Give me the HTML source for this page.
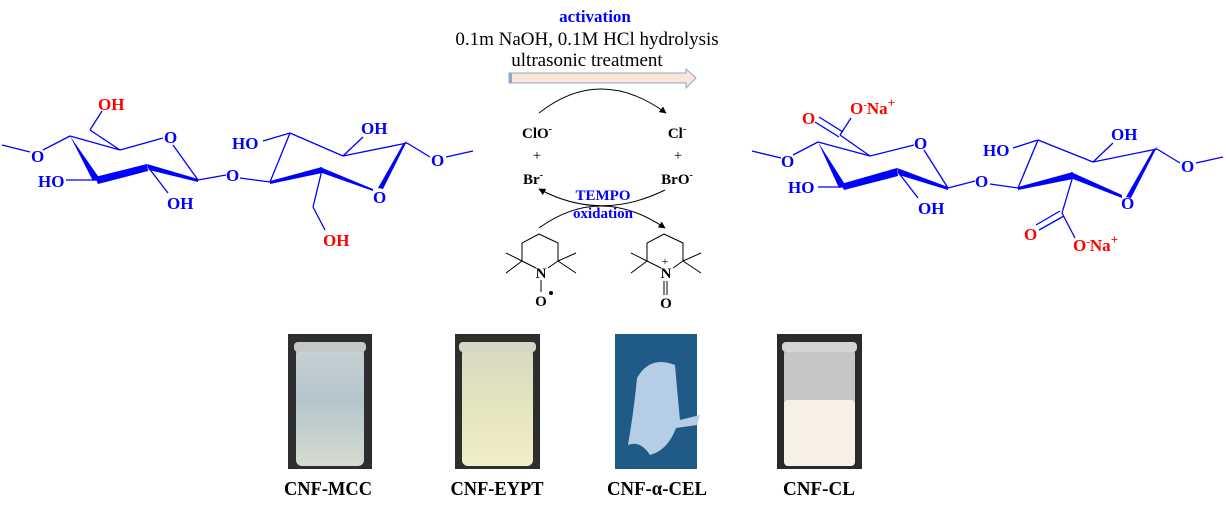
<!DOCTYPE html>
<html><head><meta charset="utf-8"><style>
html,body{margin:0;padding:0;background:#fff;}
svg{display:block;}
text{font-family:"Liberation Serif",serif;}
.b{fill:#0000ff;font-weight:bold;font-size:17px;}
.r{fill:#ff0000;font-weight:bold;font-size:17px;}
.k{fill:#000;font-weight:bold;font-size:15px;}
.lab{fill:#000;font-weight:bold;font-size:20px;}
</style></head><body>
<svg width="1226" height="511" viewBox="0 0 1226 511" xmlns="http://www.w3.org/2000/svg">
<defs>
<marker id="ah" viewBox="0 0 10 10" refX="9" refY="5" markerWidth="7" markerHeight="7" orient="auto"><path d="M0,0 L10,5 L0,10 z" fill="#000"/></marker>
</defs>
<!-- top text -->
<text x="595" y="22" text-anchor="middle" style="fill:#0000ff;font-weight:bold;font-size:17px">activation</text>
<text x="587" y="45" text-anchor="middle" style="font-size:19px">0.1m NaOH, 0.1M HCl hydrolysis</text>
<text x="587" y="66" text-anchor="middle" style="font-size:19px">ultrasonic treatment</text>
<path d="M509,73 L686,73 L686,69 L696,78 L686,88 L686,83 L509,83 z" fill="#fbe5d6" stroke="#8ea9c8" stroke-width="1"/>
<rect x="509" y="73" width="3" height="10" fill="#8ea9c8"/>

<!-- left cellulose -->
<g stroke="#0000ff" stroke-width="1.3" fill="none">
<line x1="2" y1="145" x2="30" y2="152"/>
<line x1="43" y1="150" x2="70" y2="136"/>
<line x1="70" y1="136" x2="120" y2="150"/>
<line x1="120" y1="150" x2="163" y2="138"/>
<line x1="120" y1="150" x2="90" y2="130"/>
<line x1="90" y1="130" x2="102" y2="111"/>
<line x1="173" y1="145" x2="198" y2="180"/>
<line x1="66" y1="180" x2="97" y2="180"/>
<line x1="148" y1="167" x2="168" y2="193"/>
<line x1="198" y1="180" x2="226" y2="175"/>
<line x1="240" y1="178" x2="270" y2="182"/>
<line x1="270" y1="182" x2="290" y2="133"/>
<line x1="263" y1="141" x2="290" y2="133"/>
<line x1="290" y1="133" x2="343" y2="156"/>
<line x1="343" y1="156" x2="363" y2="137"/>
<line x1="343" y1="156" x2="407" y2="143"/>
<line x1="407" y1="143" x2="430" y2="157"/>
<line x1="446" y1="157" x2="473" y2="151"/>
<line x1="322" y1="170" x2="313" y2="207"/>
<line x1="313" y1="207" x2="325" y2="230"/>
</g>
<g fill="#0000ff">
<polygon points="70,136 93,181 100,179"/>
<polygon points="95,177 98,184 148,171 147,164"/>
<polygon points="147,164 149,170 198,182 198,179"/>
<polygon points="407,141 403,144 378,188 383,189"/>
<polygon points="270,181 270,184 322,173 322,167"/>
<polygon points="320,167 322,173 373,191 373,189"/>
</g>
<text class="r" x="98" y="110">OH</text>
<text class="b" x="164" y="143">O</text>
<text class="b" x="31" y="162">O</text>
<text class="b" x="38" y="187">HO</text>
<text class="b" x="167" y="209">OH</text>
<text class="b" x="226" y="181">O</text>
<text class="b" x="232" y="149">HO</text>
<text class="b" x="361" y="134">OH</text>
<text class="b" x="431" y="166">O</text>
<text class="b" x="373" y="203">O</text>
<text class="r" x="323" y="246">OH</text>

<!-- right oxidized -->
<g stroke="#0000ff" stroke-width="1.3" fill="none">
<line x1="752" y1="151" x2="781" y2="158"/>
<line x1="793" y1="155" x2="818" y2="142"/>
<line x1="818" y1="142" x2="870" y2="156"/>
<line x1="870" y1="156" x2="914" y2="145"/>
<line x1="870" y1="156" x2="840" y2="135"/>
<line x1="840" y1="135" x2="851" y2="118"/>
<line x1="839" y1="137" x2="815" y2="122"/>
<line x1="843" y1="132" x2="819" y2="117"/>
<line x1="924" y1="150" x2="948" y2="188"/>
<line x1="818" y1="187" x2="843" y2="187"/>
<line x1="898" y1="172" x2="918" y2="198"/>
<line x1="948" y1="188" x2="975" y2="181"/>
<line x1="990" y1="184" x2="1018" y2="188"/>
<line x1="1018" y1="188" x2="1038" y2="140"/>
<line x1="1013" y1="148" x2="1038" y2="140"/>
<line x1="1038" y1="140" x2="1093" y2="162"/>
<line x1="1093" y1="162" x2="1113" y2="143"/>
<line x1="1093" y1="162" x2="1157" y2="149"/>
<line x1="1157" y1="149" x2="1180" y2="163"/>
<line x1="1196" y1="163" x2="1223" y2="157"/>
<line x1="1073" y1="176" x2="1062" y2="213"/>
<line x1="1062" y1="213" x2="1075" y2="238"/>
<line x1="1060" y1="211" x2="1036" y2="225"/>
<line x1="1064" y1="216" x2="1039" y2="230"/>
</g>
<g fill="#0000ff">
<polygon points="818,142 839,188 846,186"/>
<polygon points="841,184 844,190 898,176 897,168"/>
<polygon points="897,168 899,175 948,190 948,187"/>
<polygon points="1157,147 1153,150 1126,197 1131,198"/>
<polygon points="1018,187 1018,190 1073,179 1073,172"/>
<polygon points="1071,172 1073,179 1122,198 1122,195"/>
</g>
<text class="r" x="802" y="124">O</text>
<text class="r" x="850" y="114">O<tspan dy="-6" font-size="11">-</tspan><tspan dy="6">Na</tspan><tspan dy="-7" font-size="13">+</tspan></text>
<text class="b" x="914" y="149">O</text>
<text class="b" x="781" y="167">O</text>
<text class="b" x="788" y="193">HO</text>
<text class="b" x="918" y="214">OH</text>
<text class="b" x="975" y="187">O</text>
<text class="b" x="983" y="156">HO</text>
<text class="b" x="1111" y="140">OH</text>
<text class="b" x="1181" y="172">O</text>
<text class="b" x="1121" y="209">O</text>
<text class="r" x="1024" y="240">O</text>
<text class="r" x="1073" y="251">O<tspan dy="-6" font-size="11">-</tspan><tspan dy="6">Na</tspan><tspan dy="-7" font-size="13">+</tspan></text>

<!-- center cycle -->
<g stroke="#000" stroke-width="1" fill="none">
<path d="M539,113 Q600,65 666,113" marker-end="url(#ah)"/>
<path d="M665,190 Q600,222 539,189" marker-end="url(#ah)"/>
<path d="M539,228 Q600,184 665,228" marker-end="url(#ah)"/>
</g>
<text class="k" x="537" y="138" text-anchor="middle">ClO<tspan dy="-6" font-size="10">-</tspan></text>
<text class="k" x="677" y="138" text-anchor="middle">Cl<tspan dy="-6" font-size="10">-</tspan></text>
<text x="537" y="160" text-anchor="middle" style="font-size:15px">+</text>
<text x="678" y="160" text-anchor="middle" style="font-size:15px">+</text>
<text class="k" x="533" y="184" text-anchor="middle">Br<tspan dy="-6" font-size="10">-</tspan></text>
<text class="k" x="677" y="184" text-anchor="middle">BrO<tspan dy="-6" font-size="10">-</tspan></text>
<text x="603" y="200" text-anchor="middle" style="fill:#0000ff;font-weight:bold;font-size:15px">TEMPO</text>
<text x="603" y="218" text-anchor="middle" style="fill:#0000ff;font-weight:bold;font-size:15px">oxidation</text>

<g stroke="#000" stroke-width="1" fill="none">
<path d="M539,234 L558,243 L558,261 M539,234 L522,243 L522,261 M522,261 L506,253 M522,261 L506,273 M558,261 L576,253 M558,261 L576,273 M522,261 L536,268 M558,261 L548,268 M541,280 L541,292"/>
<path d="M664,234 L683,243 L683,261 M664,234 L647,243 L647,261 M647,261 L631,253 M647,261 L631,273 M683,261 L701,253 M683,261 L701,273 M647,261 L661,268 M683,261 L673,268 M664,281 L664,295 M667,281 L667,295"/>
</g>
<text class="k" x="541" y="278" text-anchor="middle">N</text>
<text class="k" x="541" y="306" text-anchor="middle">O</text>
<circle cx="551" cy="293" r="2" fill="#000"/>
<text class="k" x="666" y="278" text-anchor="middle">N</text>
<text x="665" y="265" text-anchor="middle" style="font-size:12px">+</text>
<text class="k" x="666" y="308" text-anchor="middle">O</text>

<!-- photos -->
<defs>
<linearGradient id="g1" x1="0" y1="0" x2="0" y2="1"><stop offset="0" stop-color="#c8d0d2"/><stop offset="0.45" stop-color="#b4c6cc"/><stop offset="1" stop-color="#d6dbcf"/></linearGradient>
<linearGradient id="g2" x1="0" y1="0" x2="0" y2="1"><stop offset="0" stop-color="#d8d8c4"/><stop offset="0.45" stop-color="#e4e4c0"/><stop offset="1" stop-color="#f0eec8"/></linearGradient>
</defs>
<rect x="288" y="334" width="84" height="135" fill="#2e2e30"/>
<rect x="296" y="348" width="68" height="118" rx="6" fill="url(#g1)"/>
<rect x="294" y="342" width="72" height="10" rx="4" fill="#c4c8c8"/>
<rect x="455" y="334" width="85" height="135" fill="#2e2e2c"/>
<rect x="462" y="348" width="71" height="118" rx="6" fill="url(#g2)"/>
<rect x="459" y="342" width="77" height="10" rx="4" fill="#d6d6c6"/>
<rect x="615" y="334" width="82" height="135" fill="#1f5b86"/>
<path d="M637,378 Q650,355 675,365 Q678,400 680,420 L700,415 L697,425 L676,428 Q668,450 650,455 Q640,440 628,445 Q634,410 637,378 z" fill="#b6cde6"/>
<rect x="777" y="334" width="85" height="135" fill="#2a2a2a"/>
<rect x="784" y="348" width="71" height="118" rx="6" fill="#c6c6c4"/>
<rect x="782" y="342" width="75" height="10" rx="4" fill="#d4d4d2"/>
<rect x="784" y="400" width="71" height="66" rx="4" fill="#f8f0e6"/>

<text class="lab" x="328" y="495" text-anchor="middle" textLength="88" lengthAdjust="spacingAndGlyphs">CNF-MCC</text>
<text class="lab" x="497" y="495" text-anchor="middle" textLength="93" lengthAdjust="spacingAndGlyphs">CNF-EYPT</text>
<text class="lab" x="657" y="495" text-anchor="middle" textLength="100" lengthAdjust="spacingAndGlyphs">CNF-α-CEL</text>
<text class="lab" x="819" y="495" text-anchor="middle" textLength="72" lengthAdjust="spacingAndGlyphs">CNF-CL</text>
</svg>
</body></html>
